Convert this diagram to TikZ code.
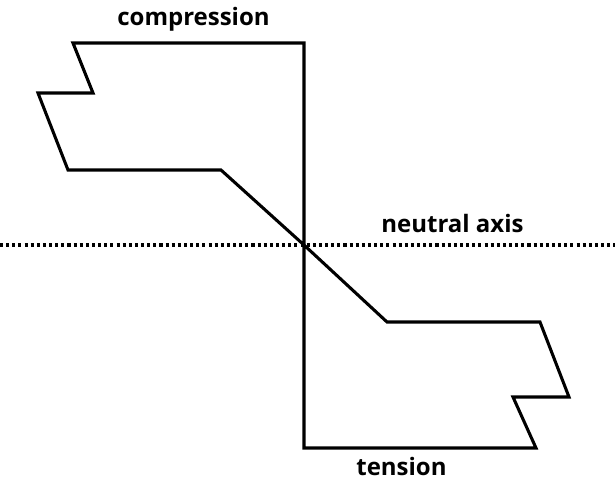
\documentclass[tikz,border=0pt]{standalone}
\usepackage{fontspec}
\setmainfont{Open Sans}
\begin{document}
\begin{tikzpicture}[x=0.75pt,y=-0.75pt,
  outline/.style={line width=2.3pt,line join=miter},
  axisline/.style={line width=2.3pt,dash pattern=on 2.3pt off 2.3pt},
  caption/.style={font=\fontsize{18}{21}\selectfont\bfseries,inner sep=0pt,anchor=base}]
\useasboundingbox (0,0) rectangle (615,483);
% neutral axis
\coordinate (axL) at (0,245);
\coordinate (axR) at (615,245);
\draw[axisline] (axL) -- (axR);
% stress block, compression side
\coordinate (O) at (304,245);
\draw[outline] (O) -- (304,43) -- (73,43) -- (93,93) -- (38,93) -- (68,170) -- (221,170) -- (O);
% stress block, tension side
\draw[outline] (O) -- (304,448) -- (536,448) -- (513,397) -- (569,397) -- (540,322) -- (387,322) -- (O);
% labels
\node[caption] (comp) at (193.5,25) {compression};
\node[caption] (na) at (452.5,232) {neutral axis};
\node[caption] (ten) at (401.5,475) {tension};
\end{tikzpicture}
\end{document}
